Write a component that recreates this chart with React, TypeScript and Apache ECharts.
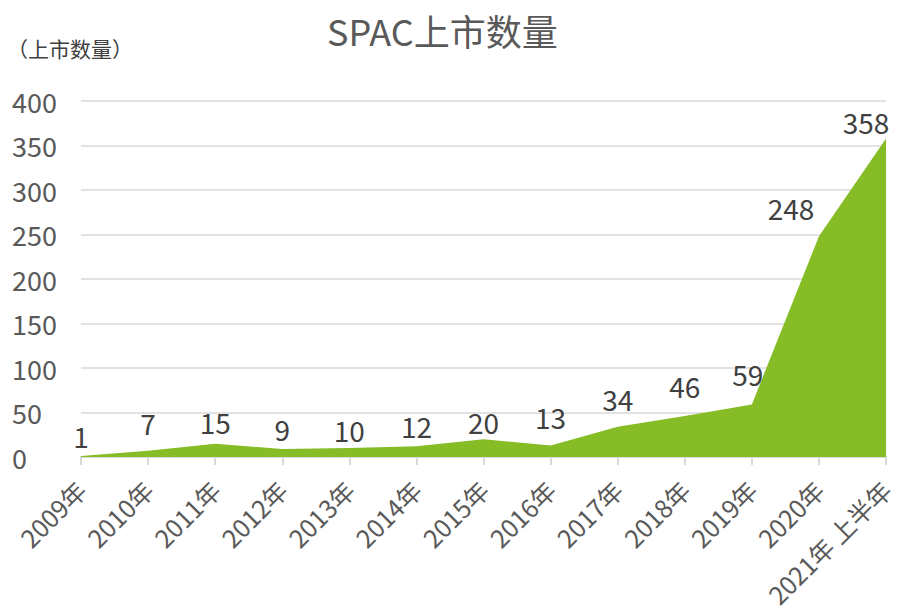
import React, { useEffect, useRef } from "react";
import * as echarts from "echarts";

const categories = ["2009年", "2010年", "2011年", "2012年", "2013年", "2014年", "2015年", "2016年", "2017年", "2018年", "2019年", "2020年", "2021年 上半年"];
const values = [1, 7, 15, 9, 10, 12, 20, 13, 34, 46, 59, 248, 358];
const labelOffsetX = [0, 0, 0, 0, 0, 0, 0, 0, 0, 0, -4, -28, -20];
const labelOffsetY = [0, -8, -2, 0, 2, 0, 3, -8, -8, -10, -10, -8, 4];
const yTicks = { min: 0, max: 400, interval: 50 };

const FONT = "'Noto Sans CJK SC', sans-serif";

export default function App() {
  const ref = useRef<HTMLDivElement>(null);
  useEffect(() => {
    const chart = echarts.init(ref.current!, null, { renderer: "svg" });
    chart.setOption({
      animation: false,
      backgroundColor: "#ffffff",
      title: {
        text: "SPAC上市数量",
        left: 322,
        top: 7,
        textStyle: { fontSize: 36, fontWeight: "normal", color: "#595959", fontFamily: FONT },
      },
      graphic: [
        {
          type: "text",
          left: 7,
          top: 37,
          style: { text: "（上市数量）", fontSize: 21, fill: "#404040", fontFamily: FONT },
        },
      ],
      grid: { left: 81, right: 6, top: 101, bottom: 153 },
      xAxis: {
        type: "category",
        data: categories,
        boundaryGap: false,
        axisLine: { lineStyle: { color: "#d9d9d9", width: 2 } },
        axisTick: { show: true, length: 8, lineStyle: { color: "#d9d9d9", width: 2 } },
        axisLabel: {
          rotate: 45,
          interval: 0,
          margin: 28,
          fontSize: 25,
          color: "#595959",
          fontFamily: FONT,
        },
      },
      yAxis: {
        type: "value",
        min: yTicks.min,
        max: yTicks.max,
        interval: yTicks.interval,
        axisLine: { show: false },
        axisTick: { show: false },
        splitLine: { lineStyle: { color: "#d9d9d9", width: 1.5 } },
        axisLabel: {
          align: "left",
          margin: 69,
          fontSize: 27,
          color: "#595959",
          fontFamily: FONT,
        },
      },
      series: [
        {
          type: "line",
          data: values.map((v, i) => ({
            value: v,
            label: { offset: [labelOffsetX[i], labelOffsetY[i]] },
          })),
          symbol: "circle",
          symbolSize: 0,
          showSymbol: true,
          lineStyle: { width: 0, color: "#86bc25" },
          itemStyle: { color: "#86bc25" },
          areaStyle: { color: "#86bc25", opacity: 1 },
          label: {
            show: true,
            position: "top",
            distance: 6,
            fontSize: 28,
            color: "#404040",
            fontFamily: FONT,
          },
        },
      ],
    });
    return () => chart.dispose();
  }, []);
  return (
    <div
      ref={ref}
      style={{ position: "fixed", left: 0, top: 0, width: 897, height: 610 }}
    />
  );
}
